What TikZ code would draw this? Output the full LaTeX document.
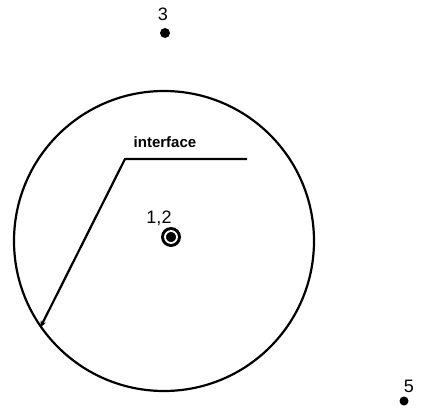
\documentclass[tikz,border=0pt]{standalone}
\usepackage{fontspec}
\setmainfont{Liberation Sans}
\usetikzlibrary{arrows.meta}

\begin{document}
\begin{tikzpicture}[
        x=1pt, y=-1pt,
        >={Stealth[length=7pt, width=5.5pt]},
        every node/.style={font=\fontsize{18}{20}\selectfont},
        sphere/.style={draw, circle, line width=2.2pt, minimum size=300pt, inner sep=0pt},
        point/.style={circle, fill=black, inner sep=0pt, minimum size=10pt},
        ring/.style={circle, draw=white, line width=1.8pt, fill=black, inner sep=0pt, minimum size=12pt},
        lbl/.style={inner sep=0pt, anchor=base},
        conn/.style={line width=2.2pt}
    ]
        \useasboundingbox (0,0) rectangle (421,410);
        % Kugel
        \node [sphere] (sphere) at (164,241) {};

        % Punkte
        \node [point] (p3) at (165,33) {};
        \node [lbl] (l3) at (163,20) {3};
        \node [point, minimum size=20pt] (p12) at (171,237) {};
        \node [ring] (p12in) at (p12) {};
        \node [lbl] (l12) at (159,223) {1,2};
        \node [point, minimum size=9pt] (p5) at (404,401) {};
        \node [lbl] (l5) at (409,392) {5};

        % Interface
        \coordinate (ifend) at (247,159);
        \coordinate (knee) at (125,159);
        \node [lbl, font=\fontsize{15}{17}\selectfont\bfseries] (iflbl) at (165,147) {interface};
        \draw [->, conn] (ifend) -- (knee) -- (sphere.215);
    \end{tikzpicture}
\end{document}
